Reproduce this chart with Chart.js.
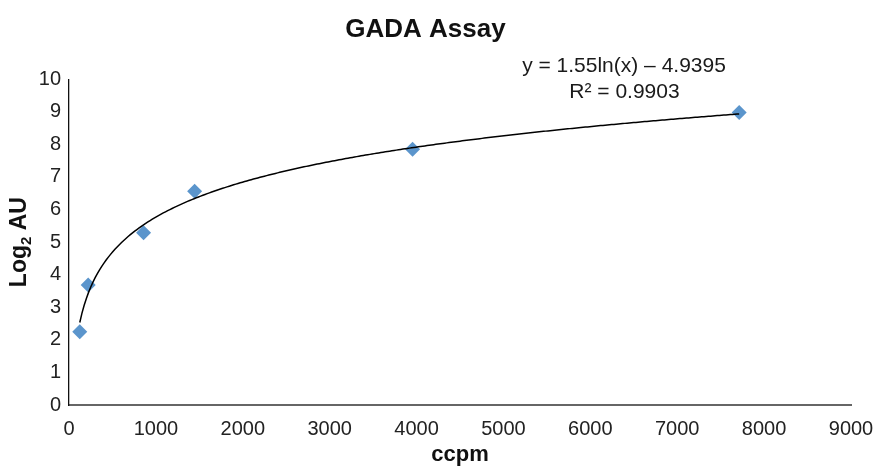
<!DOCTYPE html>
<html><head><meta charset="utf-8">
<script src="https://cdn.jsdelivr.net/npm/chart.js@4.4.0/dist/chart.umd.min.js"></script>
<style>html,body{margin:0;padding:0;background:#fff}#wrap{width:878px;height:473px}</style>
</head><body><div id="wrap"><canvas id="c" width="878" height="473"></canvas></div>
<script>
// ---- data ----
const ccpm   = [124, 221, 858, 1446, 3954, 7713];
const log2AU = [2.25, 3.68, 5.29, 6.56, 7.85, 8.98];
const xTickValues = [0, 1000, 2000, 3000, 4000, 5000, 6000, 7000, 8000, 9000];
const yTickValues = [0, 1, 2, 3, 4, 5, 6, 7, 8, 9, 10];
// logarithmic trendline shown on the chart: y = a*ln(x) + b
const trendA = 1.55;
const trendB = -4.9395;
const equationText = 'y = 1.55ln(x) \u2013 4.9395';
const r2Text = 'R\u00B2 = 0.9903';
const chartTitle = 'GADA Assay';
const xTitle = 'ccpm';

const FONT = "'Liberation Sans', Arial, Helvetica, sans-serif";

// trendline evaluated from its printed equation between the first and last sample
const trendPts = [];
const x0 = Math.min(...ccpm), x1 = Math.max(...ccpm);
for (let i = 0; i <= 300; i++) {
  const x = x0 + (x1 - x0) * i / 300;
  trendPts.push({x: x, y: trendA * Math.log(x) + trendB});
}
const pts = ccpm.map((x, i) => ({x: x, y: log2AU[i]}));

const overlay = {
  id: 'overlay',
  afterDraw(chart) {
    const ctx = chart.ctx;
    const ca = chart.chartArea;
    ctx.save();
    // y axis title with subscript
    ctx.fillStyle = '#111';
    ctx.translate(26, (ca.top + ca.bottom) / 2);
    ctx.rotate(-Math.PI / 2);
    const big = "bold 23px " + FONT, small = "bold 15px " + FONT;
    ctx.font = big; const w1 = ctx.measureText('Log').width;
    ctx.font = small; const w2 = ctx.measureText('2').width;
    ctx.font = big; const w3 = ctx.measureText(' AU').width;
    let sx = -(w1 + w2 + w3) / 2;
    ctx.textBaseline = 'alphabetic';
    ctx.textAlign = 'left';
    ctx.font = big; ctx.fillText('Log', sx, 0); sx += w1;
    ctx.font = small; ctx.fillText('2', sx, 5); sx += w2;
    ctx.font = big; ctx.fillText(' AU', sx, 0);
    ctx.restore();

    // equation annotation
    ctx.save();
    ctx.fillStyle = '#1a1a1a';
    ctx.font = "21px " + FONT;
    ctx.textAlign = 'center';
    ctx.textBaseline = 'alphabetic';
    ctx.fillText(equationText, 624, 72);
    ctx.fillText(r2Text, 624.5, 98);
    ctx.restore();
  }
};

new Chart(document.getElementById('c'), {
  type: 'scatter',
  data: {
    datasets: [
      {
        type: 'line',
        data: trendPts,
        borderColor: '#000',
        borderWidth: 1.5,
        pointRadius: 0,
        fill: false,
        tension: 0
      },
      {
        data: pts,
        pointStyle: 'rectRot',
        pointRadius: 7.5,
        backgroundColor: '#5b95cc',
        borderWidth: 0
      }
    ]
  },
  options: {
    responsive: false,
    animation: false,
    devicePixelRatio: 1,
    layout: {padding: {left: 0, right: 27, top: 0, bottom: 0}},
    plugins: {
      legend: {display: false},
      tooltip: {enabled: false},
      title: {
        display: true,
        text: chartTitle,
        color: '#111',
        font: {family: FONT, size: 26, weight: 'bold'},
        padding: {top: 14, bottom: 34}
      }
    },
    scales: {
      x: {
        type: 'linear',
        min: 0, max: 9000,
        afterBuildTicks: s => { s.ticks = xTickValues.map(v => ({value: v})); },
        ticks: {font: {family: FONT, size: 20}, color: '#222', padding: 12, maxRotation: 0, autoSkip: false,
                callback: v => String(v)},
        grid: {display: false, drawTicks: false},
        border: {display: true, color: '#666', width: 2},
        title: {display: true, text: xTitle, color: '#111', font: {family: FONT, size: 22, weight: 'bold'}, padding: {top: 0, bottom: 5}},
        afterFit: s => { s.height = 68; s.paddingLeft = 0; s.paddingRight = 0; }
      },
      y: {
        type: 'linear',
        min: 0, max: 10,
        afterBuildTicks: s => { s.ticks = yTickValues.map(v => ({value: v})); },
        ticks: {font: {family: FONT, size: 20}, color: '#222', padding: 8, callback: v => String(v)},
        grid: {display: false, drawTicks: false},
        border: {display: true, color: '#111', width: 1.3},
        afterFit: s => { s.width = 69; s.paddingTop = 0; s.paddingBottom = 0; }
      }
    }
  },
  plugins: [overlay]
});
</script>
</body></html>
